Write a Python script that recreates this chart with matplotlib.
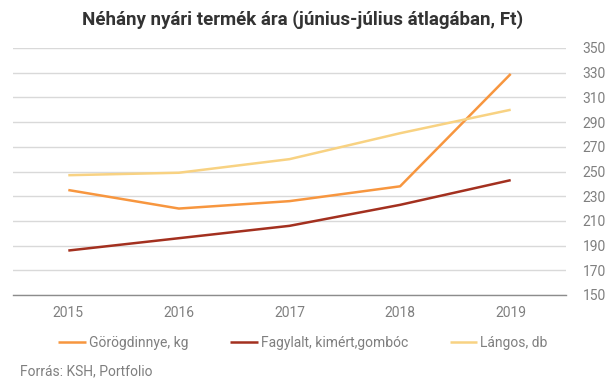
import matplotlib
matplotlib.use("Agg")
import matplotlib.pyplot as plt

years = ["2015", "2016", "2017", "2018", "2019"]
gorogdinnye = [235, 220, 226, 238, 329]
fagylalt = [186, 196, 206, 223, 243]
langos = [247, 249, 260, 281, 300]
yticks = list(range(150, 351, 20))

series = [
    ("Görögdinnye, kg", gorogdinnye, "#F7963F"),
    ("Fagylalt, kimért,gombóc", fagylalt, "#A3301F"),
    ("Lángos, db", langos, "#F8D282"),
]

plt.rcParams["font.family"] = ["Roboto", "DejaVu Sans"]
GRAY = "#7f7f7f"

fig = plt.figure(figsize=(6.05, 3.78), dpi=100)
ax = fig.add_axes([13 / 605, 1 - 295 / 378, (566 - 13) / 605, (295 - 48) / 378])

x = range(len(years))
for label, vals, color in series:
    ax.plot(x, vals, color=color, linewidth=1.8, label=label, solid_capstyle="butt")

ax.set_xlim(-0.5, len(years) - 0.5)
ax.set_ylim(150, 350)
ax.set_yticks(yticks)
ax.set_xticks(list(x))
ax.set_xticklabels(years)
ax.yaxis.tick_right()
ax.tick_params(axis="both", length=0, labelsize=10, colors=GRAY)
ax.tick_params(axis="y", pad=12)
ax.tick_params(axis="x", pad=8)
ax.grid(True, axis="y", color="#d9d9d9", linewidth=1)
ax.set_axisbelow(True)
for side in ("top", "left", "right"):
    ax.spines[side].set_visible(False)
ax.spines["bottom"].set_color("#8c8c8c")
ax.spines["bottom"].set_linewidth(1)

fig.text(0.5, 1 - 20 / 378, "Néhány nyári termék ára (június-július átlagában, Ft)",
         ha="center", va="center", fontsize=13.5, fontweight="bold", color="#333333")

fig.legend(loc="center", bbox_to_anchor=(303 / 605, 1 - 343 / 378), ncol=3, frameon=False,
           fontsize=10, handlelength=2.0, handletextpad=0.2, columnspacing=3.0,
           labelcolor=GRAY)

fig.text(20 / 605, 1 - 371 / 378, "Forrás: KSH, Portfolio", ha="left", va="center",
         fontsize=10, color=GRAY)

fig.savefig("out.png", dpi=100)
